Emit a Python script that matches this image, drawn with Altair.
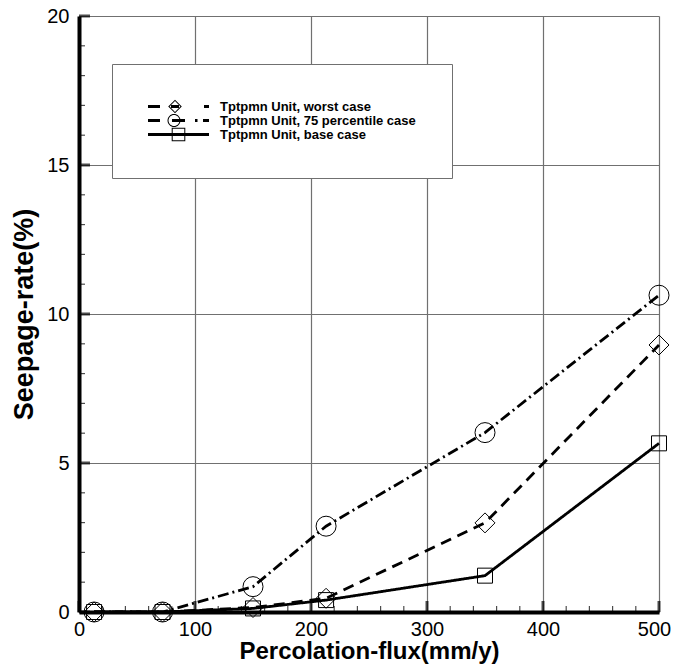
import math
import altair as alt
import pandas as pd

# ---- data ----
flux = [13, 72, 150, 213, 350, 500]
worst = [0, 0, 0.15, 0.46, 2.99, 8.96]
pct75 = [0, 0, 0.85, 2.88, 6.02, 10.63]
base = [0, 0, 0.12, 0.40, 1.22, 5.66]
series_names = [
    "Tptpmn Unit, worst case",
    "Tptpmn Unit, 75 percentile case",
    "Tptpmn Unit, base case",
]
x_ticks = [0, 100, 200, 300, 400, 500]
y_ticks = [0, 5, 10, 15, 20]
x_minor = [v for v in range(0, 501, 20) if v % 100]
y_minor = [v for v in range(0, 21) if v % 5]

rows = []
for name, vals in zip(series_names, [worst, pct75, base]):
    for xv, yv in zip(flux, vals):
        rows.append({"flux": xv, "rate": yv, "series": name})
df = pd.DataFrame(rows)

# tick tables: tick value on one axis, the other axis at its origin (0)
xt_major_df = pd.DataFrame({"flux": x_ticks, "rate": [0] * len(x_ticks)})
xt_minor_df = pd.DataFrame({"flux": x_minor, "rate": [0] * len(x_minor)})
yt_major_df = pd.DataFrame({"rate": y_ticks, "flux": [0] * len(y_ticks)})
yt_minor_df = pd.DataFrame({"rate": y_minor, "flux": [0] * len(y_minor)})

W, H = 580, 596
FONT = "Liberation Sans"
GRID = "#707070"

# ---- legend glyphs (line style + marker), built as filled SVG paths ----
K, C = 6.0, 6.5  # symbolSize 144 -> 6 px per path unit; symbol centre at 6.5 px


def _pt(x, y):
    return f"{(x - C) / K:.3f},{y / K:.3f}"


def _poly(pts):
    return "M" + " L".join(_pt(x, y) for x, y in pts) + " Z "


def _dash(x0, x1, h=1.4):
    return _poly([(x0, -h), (x1, -h), (x1, h), (x0, h)])


def _diamond(cx, r, w=1.0):
    ri = r - w * math.sqrt(2)
    return (_poly([(cx + r, 0), (cx, r), (cx - r, 0), (cx, -r)])
            + _poly([(cx + ri, 0), (cx, -ri), (cx - ri, 0), (cx, ri)]))


def _circle(cx, r, w=1.0, n=32):
    outer = [(cx + r * math.cos(2 * math.pi * i / n), r * math.sin(2 * math.pi * i / n)) for i in range(n)]
    ri = r - w
    inner = [(cx + ri * math.cos(-2 * math.pi * i / n), ri * math.sin(-2 * math.pi * i / n)) for i in range(n)]
    return _poly(outer) + _poly(inner)


def _square(cx, r, w=1.0):
    ri = r - w
    return (_poly([(cx - r, -r), (cx + r, -r), (cx + r, r), (cx - r, r)])
            + _poly([(cx - ri, -ri), (cx - ri, ri), (cx + ri, ri), (cx + ri, -ri)]))


legend_glyphs = [
    (_dash(0, 12) + _dash(23, 31) + _dash(56, 61) + _diamond(27, 6.8)).strip(),
    (_dash(0, 12) + _dash(24, 37) + _dash(47, 49.5) + _dash(55, 61) + _circle(26, 6.5)).strip(),
    (_dash(0, 61) + _square(30.5, 6.8)).strip(),
]

xscale = alt.Scale(domain=[0, 500], nice=False, zero=False)
yscale = alt.Scale(domain=[0, 20], nice=False, zero=False)

chart_base = alt.Chart(df)

lines = chart_base.mark_line(color="black", strokeWidth=2.8).encode(
    x=alt.X(
        "flux:Q",
        scale=xscale,
        axis=alt.Axis(
            values=x_ticks, ticks=False, tickSize=0, labelPadding=7,
            labelFontSize=20, labelFont=FONT, labelColor="black",
            labelFlush=False, labelOverlap=False,
            labelOffset={"condition": {"test": "datum.value == 500", "value": -5}, "value": 0},
            domainColor="black", domainWidth=4,
            grid=True, gridColor=GRID, gridWidth=1.2,
            title="Percolation-flux(mm/y)", titleFont=FONT, titleFontSize=24,
            titleFontWeight="bold", titleColor="black", titlePadding=0,
        ),
    ),
    y=alt.Y(
        "rate:Q",
        scale=yscale,
        axis=alt.Axis(
            values=y_ticks, ticks=False, tickSize=0, labelPadding=10,
            labelFontSize=20, labelFont=FONT, labelColor="black",
            labelFlush=False, labelOverlap=False,
            domainColor="black", domainWidth=4,
            grid=True, gridColor=GRID, gridWidth=1.2,
            title="Seepage-rate(%)", titleFont=FONT, titleFontSize=27,
            titleFontWeight="bold", titleColor="black", titlePadding=8,
        ),
    ),
    strokeDash=alt.StrokeDash(
        "series:N",
        scale=alt.Scale(domain=series_names, range=[[11, 7], [11, 4, 2, 4], [1, 0]]),
        legend=None,
    ),
)

points = chart_base.mark_point(filled=False, color="black", strokeWidth=1, opacity=1).encode(
    x=alt.X("flux:Q", scale=xscale, axis=None),
    y=alt.Y("rate:Q", scale=yscale, axis=None),
    shape=alt.Shape(
        "series:N",
        scale=alt.Scale(domain=series_names, range=["diamond", "circle", "square"]),
        legend=None,
    ),
    size=alt.condition(alt.datum.series == series_names[2], alt.value(225), alt.value(400)),
)

# invisible layer that carries the legend
legend_layer = chart_base.mark_point(filled=True, opacity=0, color="black", strokeWidth=0).encode(
    x=alt.X("flux:Q", scale=xscale, axis=None),
    y=alt.Y("rate:Q", scale=yscale, axis=None),
    shape=alt.Shape(
        "series:N",
        scale=alt.Scale(domain=series_names, range=legend_glyphs),
        legend=alt.Legend(
            title=None, orient="none", legendX=33, legendY=48, padding=36,
            fillColor="white", strokeColor=GRID,
            symbolSize=144, symbolOpacity=1, symbolStrokeWidth=0,
            symbolFillColor="black", symbolStrokeColor="transparent",
            rowPadding=-3, labelOffset=59, labelLimit=400,
            labelFont=FONT, labelFontSize=13, labelFontWeight="bold",
            labelColor="black", zindex=1,
        ),
    ),
)

# inward tick marks (major and minor) placed through the scales
def tick_layer(data, orient, thick, length, **offs):
    return alt.Chart(data).mark_tick(
        orient=orient, color="black", thickness=thick, size=length, **offs
    ).encode(
        x=alt.X("flux:Q", scale=xscale, axis=None),
        y=alt.Y("rate:Q", scale=yscale, axis=None),
    )


xt_major = tick_layer(xt_major_df, "vertical", 3, 11, yOffset=-5.5)
xt_minor = tick_layer(xt_minor_df, "vertical", 1.2, 6, yOffset=-3)
yt_major = tick_layer(yt_major_df, "horizontal", 3, 11, xOffset=5.5)
yt_minor = tick_layer(yt_minor_df, "horizontal", 1.2, 6, xOffset=3)

chart = (
    alt.layer(lines, points, legend_layer, xt_major, xt_minor, yt_major, yt_minor)
    .resolve_axis(x="independent", y="independent")
    .resolve_scale(shape="independent")
    .properties(
        width=W, height=H, autosize="none",
        padding={"left": 71, "top": 8, "right": 12, "bottom": 52},
        background="white",
    )
    .configure_view(stroke=None)
)

chart.save("out.html", embed_options={"renderer": "svg", "actions": False})
